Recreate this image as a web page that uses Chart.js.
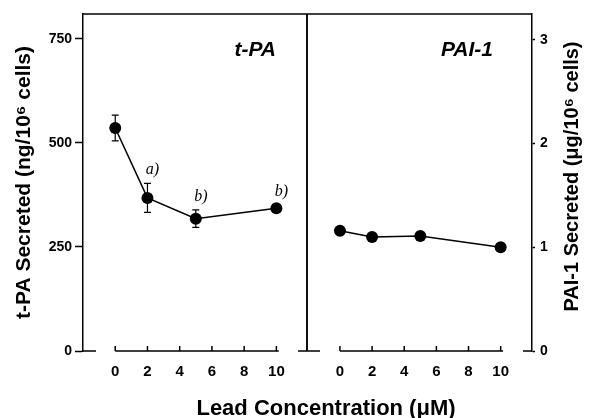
<!DOCTYPE html>
<html>
<head>
<meta charset="utf-8">
<script src="https://cdn.jsdelivr.net/npm/chart.js@4.4.0/dist/chart.umd.min.js"></script>
<style>
    body { margin: 0; background: #fff; }
    #wrap { position: relative; width: 592px; height: 418px; overflow: hidden; }
    canvas { position: absolute; top: 0; }
    #left { left: 0; }
    #right { left: 300px; }
    #xtitle {
        position: absolute; left: 326px; top: 395px; transform: translateX(-50%);
        white-space: nowrap; line-height: 1; color: #000;
        font: bold 22px "Liberation Sans", Arial, sans-serif;
    }
</style>
</head>
<body>
<div id="wrap">
    <canvas id="left" width="310" height="418"></canvas>
    <canvas id="right" width="292" height="418"></canvas>
    <div id="xtitle">Lead Concentration (μM)</div>
</div>
<script>
// === Data ===
const doses = [0, 2, 5, 10];                 // lead concentration, µM
const tpa = [536, 368, 318, 343];            // t-PA secreted, ng/10^6 cells
const tpaErr = [31, 35, 21, 8];
const pai = [1.16, 1.10, 1.11, 1.00];        // PAI-1 secreted, µg/10^6 cells
const tpaNotes = [null, 'a)', 'b)', 'b)'];

const xTicks = [0, 2, 4, 6, 8, 10];
const tpaTicks = [0, 250, 500, 750];
const paiTicks = [0, 1, 2, 3];

const FONT = '"Liberation Sans", Arial, sans-serif';

// frame, broken x axis, error bars and text labels
const panelDecor = {
    id: 'panelDecor',
    beforeDatasetsDraw(chart, args, opts) {
        const { ctx, chartArea: a, scales: { x, y } } = chart;
        ctx.save();
        ctx.strokeStyle = '#000';
        ctx.lineWidth = 1.5;
        ctx.beginPath();
        ctx.moveTo(a.left, a.top); ctx.lineTo(a.right, a.top);
        const side = opts.side === 'left' ? a.right : a.left;
        ctx.moveTo(side, a.top); ctx.lineTo(side, a.bottom);
        // corner stubs of the bottom frame
        ctx.moveTo(a.left, a.bottom); ctx.lineTo(a.left + 13, a.bottom);
        ctx.moveTo(a.right - 9, a.bottom); ctx.lineTo(a.right, a.bottom);
        // x axis only over the data range, ticks pointing inward
        const x0 = x.getPixelForValue(xTicks[0]);
        const x1 = x.getPixelForValue(xTicks[xTicks.length - 1] + 0.15);
        ctx.moveTo(x0, a.bottom); ctx.lineTo(x1, a.bottom);
        xTicks.forEach(v => {
            const px = x.getPixelForValue(v);
            ctx.moveTo(px, a.bottom); ctx.lineTo(px, a.bottom - 5);
        });
        ctx.stroke();

        // error bars
        if (opts.errors) {
            const meta = chart.getDatasetMeta(0);
            ctx.lineWidth = 1.2;
            ctx.beginPath();
            meta.data.forEach((pt, i) => {
                const v = chart.data.datasets[0].data[i].y;
                const top = y.getPixelForValue(v + opts.errors[i]);
                const bot = y.getPixelForValue(v - opts.errors[i]);
                ctx.moveTo(pt.x, top); ctx.lineTo(pt.x, bot);
                ctx.moveTo(pt.x - 3.5, top); ctx.lineTo(pt.x + 3.5, top);
                ctx.moveTo(pt.x - 3.5, bot); ctx.lineTo(pt.x + 3.5, bot);
            });
            ctx.stroke();
        }
        ctx.restore();
    },
    afterDatasetsDraw(chart, args, opts) {
        const { ctx, chartArea: a, scales: { y } } = chart;
        ctx.save();
        ctx.fillStyle = '#000';
        // panel label
        ctx.font = 'italic bold 21px ' + FONT;
        ctx.textAlign = 'right';
        ctx.textBaseline = 'alphabetic';
        ctx.fillText(opts.label, a.right - opts.labelInset, a.top + 42);

        // significance notes above the error bars
        if (opts.notes) {
            const meta = chart.getDatasetMeta(0);
            ctx.font = 'italic 16px "Liberation Serif", "Times New Roman", serif';
            ctx.textAlign = 'center';
            opts.notes.forEach((t, i) => {
                if (!t) return;
                const v = chart.data.datasets[0].data[i].y;
                const top = y.getPixelForValue(v + opts.errors[i]);
                ctx.fillText(t, meta.data[i].x + 5, top - 9);
            });
        }

        // right-hand axis title, read bottom to top
        if (opts.rightTitle) {
            ctx.font = 'bold 20px ' + FONT;
            ctx.textAlign = 'center';
            ctx.textBaseline = 'middle';
            ctx.translate(chart.width - 20, (a.top + a.bottom) / 2 - 6);
            ctx.rotate(-Math.PI / 2);
            ctx.fillText(opts.rightTitle, 0, 0);
        }
        ctx.restore();
    }
};

function xScale(min, max) {
    return {
        type: 'linear', min, max,
        afterBuildTicks: s => { s.ticks = xTicks.map(v => ({ value: v })); },
        afterFit: s => { s.height = 67; },
        grid: { display: false, drawTicks: false },
        border: { display: false },
        ticks: { color: '#000', font: { family: FONT, size: 15, weight: 'bold' }, padding: 12, autoSkip: false, maxRotation: 0 }
    };
}

function lineSet(values) {
    return {
        data: doses.map((d, i) => ({ x: d, y: values[i] })),
        borderColor: '#000', borderWidth: 1.5,
        pointRadius: 6, pointBackgroundColor: '#000', pointBorderWidth: 0,
        tension: 0, clip: false
    };
}

const common = {
    responsive: false,
    devicePixelRatio: 1,
    animation: false,
    events: []
};

new Chart(document.getElementById('left'), {
    type: 'line',
    data: { datasets: [lineSet(tpa)] },
    options: {
        ...common,
        layout: { autoPadding: false, padding: { top: 14, right: 3, left: 0, bottom: 0 } },
        scales: {
            x: xScale(-2, 11.9),
            y: {
                min: 0, max: 810,
                afterBuildTicks: s => { s.ticks = tpaTicks.map(v => ({ value: v })); },
                afterFit: s => { s.width = 83; },
                grid: { drawOnChartArea: false, tickLength: 8, tickColor: '#000', tickWidth: 1.5 },
                border: { color: '#000', width: 1.5 },
                ticks: { color: '#000', font: { family: FONT, size: 14, weight: 'bold' }, padding: 3 },
                title: {
                    display: true, text: 't-PA Secreted (ng/10⁶ cells)', color: '#000',
                    font: { family: FONT, size: 21, weight: 'bold' }, padding: { top: 12 }
                }
            }
        },
        plugins: {
            legend: { display: false }, tooltip: { enabled: false },
            panelDecor: { side: 'left', label: 't-PA', labelInset: 31, errors: tpaErr, notes: tpaNotes }
        }
    },
    plugins: [panelDecor]
});

new Chart(document.getElementById('right'), {
    type: 'line',
    data: { datasets: [lineSet(pai)] },
    options: {
        ...common,
        layout: { autoPadding: false, padding: { top: 14, right: 0, left: 7, bottom: 0 } },
        scales: {
            x: xScale(-2.05, 11.95),
            y: {
                position: 'right', min: 0, max: 3.25,
                afterBuildTicks: s => { s.ticks = paiTicks.map(v => ({ value: v })); },
                afterFit: s => { s.width = 60; },
                grid: { drawOnChartArea: false, tickLength: 3, tickColor: '#000', tickWidth: 1.5 },
                border: { color: '#000', width: 1.5 },
                ticks: { color: '#000', font: { family: FONT, size: 14, weight: 'bold' }, padding: 5 }
            }
        },
        plugins: {
            legend: { display: false }, tooltip: { enabled: false },
            panelDecor: { side: 'right', label: 'PAI-1', labelInset: 39, rightTitle: 'PAI-1 Secreted (μg/10⁶ cells)' }
        }
    },
    plugins: [panelDecor]
});
</script>
</body>
</html>
